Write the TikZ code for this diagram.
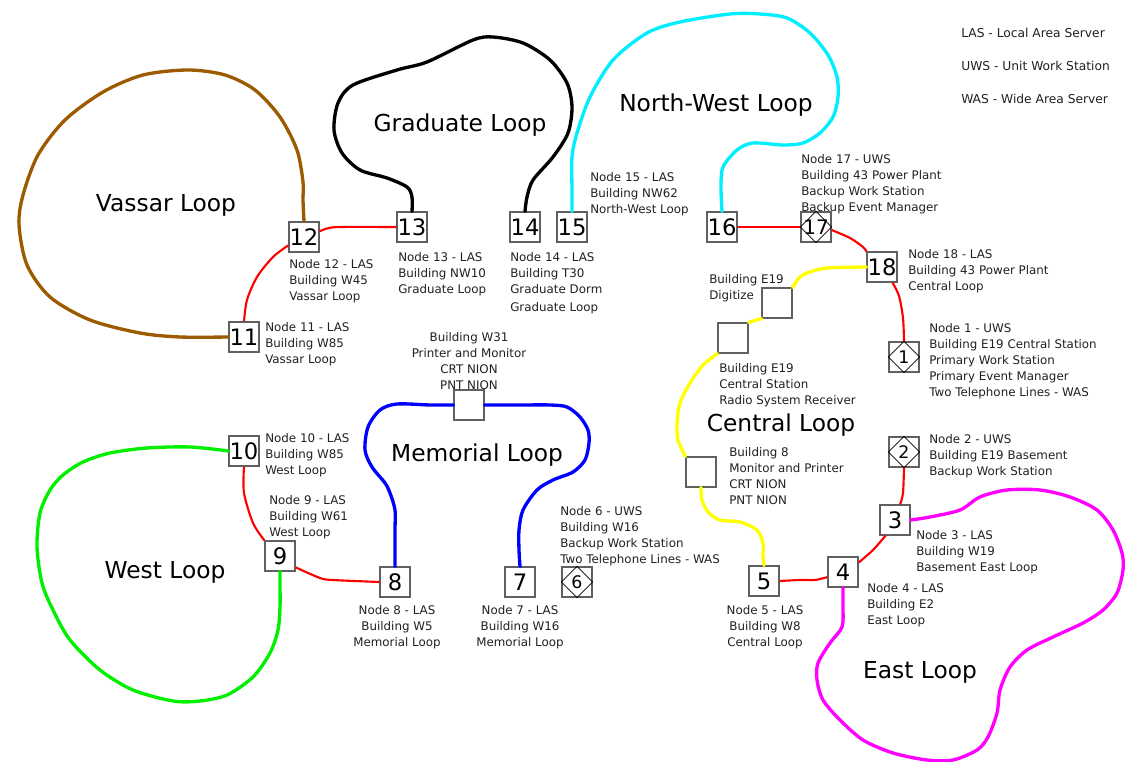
\documentclass[tikz,border=0pt]{standalone}
\usepackage{fontspec}
\setmainfont{DejaVu Sans}
\definecolor{boxgray}{HTML}{606060}
\definecolor{txt}{HTML}{202020}
\definecolor{vassar}{HTML}{9C5B00}
\definecolor{nwcyan}{HTML}{00EEFF}
\definecolor{wgreen}{HTML}{00F000}
\definecolor{memblue}{HTML}{0000FF}
\definecolor{cyellow}{HTML}{FFFF00}
\definecolor{emag}{HTML}{FF00FF}
\begin{document}
\begin{tikzpicture}[x=0.75pt,y=-0.75pt,
  box/.style={draw=boxgray,line width=0.9pt,minimum size=22.5pt,inner sep=0pt,fill=white,font=\fontsize{17}{17}\selectfont},
  dbox/.style={box,font=\fontsize{13}{13}\selectfont},
  lbl/.style={font=\fontsize{8.9}{12}\selectfont,align=left,anchor=north west,inner sep=0pt,text=txt},
  clbl/.style={lbl,align=center,anchor=north},
  legend/.style={font=\fontsize{9.2}{12}\selectfont,anchor=west,inner sep=0pt,text=txt},
  big/.style={font=\fontsize{17.5}{20}\selectfont,anchor=base,inner sep=0pt},
  ring/.style={line width=2.5pt,line join=round,line cap=round},
  redlink/.style={red,line width=1.6pt,line join=round},
  diam/.style={black,line width=0.6pt},
]
\useasboundingbox (0,0) rectangle (1128,762);

% boxes
\node[box] (b12) at (304,237) {12};
\node[box] (b11) at (244,337) {11};
\node[box] (b13) at (412,227) {13};
\node[box] (b14) at (525,227) {14};
\node[box] (b15) at (572,227) {15};
\node[box] (b16) at (722,227) {16};
\node[box,font=\fontsize{15}{15}\selectfont] (b17) at (816,227) {17};
\node[box] (b18) at (882,267) {18};
\node[box] (bdig) at (777,303) {};
\node[box] (bcs) at (733,338) {};
\node[box] (bb8) at (701,472) {};
\node[dbox] (b1) at (904,357) {1};
\node[dbox] (b2) at (904,452) {2};
\node[box] (b3) at (895,520) {3};
\node[box] (b4) at (843,572) {4};
\node[box] (b5) at (764,581) {5};
\node[box] (bw31) at (469,405) {};
\node[box] (b8) at (395,582) {8};
\node[box] (b7) at (520,582) {7};
\node[dbox] (b6) at (577,582) {6};
\node[box] (b10) at (244,451) {10};
\node[box] (b9) at (280,556) {9};

\foreach \n in {17,1,2,6}
  \draw[diam] (b\n.north) -- (b\n.east) -- (b\n.south) -- (b\n.west) -- cycle;

% loops
\draw[ring,vassar] plot[smooth] coordinates {(b12.north) (303,200) (303,182) (297,150) (280,117) (255,90) (225,75) (188,70) (143,75) (103,92) (65,120) (38,155) (23,195) (19,225) (27,265) (50,297) (90,320) (140,333) (180,337) (b11.west)};
\draw[ring,black] plot[smooth] coordinates {(b13.north) (412,197) (407,187) (387,178) (360,170) (342,153) (334,130) (338,103) (353,85) (397,70) (427,62) (473,40) (493,37) (523,43) (550,60) (567,83) (572,107) (568,133) (553,157) (533,180) (527,197) (b14.north)};
\draw[ring,nwcyan] plot[smooth] coordinates {(b15.north) (572,190) (572,157) (577,133) (590,97) (613,60) (647,33) (680,22) (730,14) (760,14) (787,18) (810,33) (828,55) (837,77) (838,97) (833,117) (820,133) (803,143) (783,145) (753,143) (737,150) (723,167) (721,187) (b16.north)};
\draw[ring,memblue] plot[smooth] coordinates {(b8.north) (395,530) (395,510) (390,493) (385,483) (372,467) (365,450) (368,427) (380,410) (397,404) (430,405) (bw31.west)};
\draw[ring,memblue] plot[smooth] coordinates {(bw31.east) (520,405) (550,405) (567,407) (580,417) (588,430) (589,443) (585,460) (573,472) (553,480) (537,490) (523,510) (519,530) (519,550) (b7.north)};
\draw[ring,cyellow] plot[smooth] coordinates {(b18.west) (827,268) (810,272) (800,277) (bdig.north east)};
\draw[ring,cyellow] (bdig.south west) -- (bcs.north east);
\draw[ring,cyellow] plot[smooth] coordinates {(bcs.south west) (703,365) (690,383) (680,403) (677,423) (678,440) (bb8.north west)};
\draw[ring,cyellow] plot[smooth] coordinates {(bb8.south) (702,500) (708,512) (720,520) (740,522) (757,530) (763,543) (763,555) (b5.north)};
\draw[ring,emag] plot[smooth] coordinates {(b3.east) (930,517) (960,510) (980,497) (1007,490) (1040,490) (1070,497) (1097,510) (1113,530) (1122,553) (1123,570) (1117,593) (1103,610) (1083,623) (1053,637) (1027,650) (1010,667) (1000,690) (997,713) (988,737) (977,750) (953,760) (927,760) (893,753) (863,740) (840,720) (823,700) (817,680) (818,663) (830,643) (842,627) (843,607) (b4.south)};
\draw[ring,wgreen] plot[smooth] coordinates {(b10.west) (190,447) (147,448) (110,453) (83,462) (63,475) (50,490) (40,513) (37,547) (42,583) (53,610) (70,640) (100,670) (133,690) (173,701) (200,701) (227,695) (253,677) (270,653) (278,630) (280,607) (280,585) (b9.south)};

% red links
\draw[redlink] plot[smooth] coordinates {(b12.20) (327,228.5) (340,227) (b13.west)};
\draw[redlink] plot[smooth] coordinates {(b12.208) (273,257) (257,277) (247,300) (b11.north)};
\draw[redlink] (b16.east) -- (b17.west);
\draw[redlink] plot[smooth] coordinates {(b17.-11) (850,238) (863,247) (b18.north west)};
\draw[redlink] plot[smooth] coordinates {(b18.-56) (899,296) (903,318) (b1.north)};
\draw[redlink] plot[smooth] coordinates {(b2.south) (903,493) (b3.72)};
\draw[redlink] plot[smooth] coordinates {(b3.-121) (873,550) (b4.31)};
\draw[redlink] plot[smooth] coordinates {(b4.198) (815,580) (800,580) (b5.east)};
\draw[redlink] plot[smooth] coordinates {(b10.south) (244,493) (253,523) (b9.north west)};
\draw[redlink] plot[smooth] coordinates {(b9.-36) (320,578) (333,580) (b8.west)};

% big labels
\node[big] (lvassar) at (166,212) {Vassar Loop};
\node[big] (lgrad) at (460,132) {Graduate Loop};
\node[big] (lnw) at (716,112) {North-West Loop};
\node[big] (lmem) at (477,462) {Memorial Loop};
\node[big] (lwest) at (165,578) {West Loop};
\node[big] (lcent) at (781,432) {Central Loop};
\node[big] (least) at (920,678) {East Loop};

% small labels
\node[lbl] (t12) at (289,259) {Node 12 - LAS\\Building W45\\Vassar Loop};
\node[lbl] (t11) at (265,322) {Node 11 - LAS\\Building W85\\Vassar Loop};
\node[lbl] (t13) at (398,252) {Node 13 - LAS\\Building NW10\\Graduate Loop};
\node[lbl] (t14) at (510,252) {Node 14 - LAS\\Building T30\\Graduate Dorm\\[2pt]Graduate Loop};
\node[lbl] (t15) at (590,172) {Node 15 - LAS\\Building NW62\\North-West Loop};
\node[lbl] (t17) at (801,154) {Node 17 - UWS\\Building 43 Power Plant\\Backup Work Station\\Backup Event Manager};
\node[lbl] (t18) at (908,249) {Node 18 - LAS\\Building 43 Power Plant\\Central Loop};
\node[lbl] (tdig) at (709,274) {Building E19\\Digitize};
\node[lbl] (tcs) at (719,363) {Building E19\\Central Station\\Radio System Receiver};
\node[lbl] (t1) at (929,323) {Node 1 - UWS\\Building E19 Central Station\\Primary Work Station\\Primary Event Manager\\Two Telephone Lines - WAS};
\node[lbl] (tb8) at (729,447) {Building 8\\Monitor and Printer\\CRT NION\\PNT NION};
\node[lbl] (t2) at (929,434) {Node 2 - UWS\\Building E19 Basement\\Backup Work Station};
\node[lbl] (t3) at (916,530) {Node 3 - LAS\\Building W19\\Basement East Loop};
\node[lbl] (t4) at (867,583) {Node 4 - LAS\\Building E2\\East Loop};
\node[clbl] (t5) at (765,605) {Node 5 - LAS\\Building W8\\Central Loop};
\node[clbl] (tw31) at (469,332) {Building W31\\Printer and Monitor\\CRT NION\\PNT NION};
\node[lbl] (t6) at (560,506) {Node 6 - UWS\\Building W16\\Backup Work Station\\Two Telephone Lines - WAS};
\node[clbl] (t8) at (397,605) {Node 8 - LAS\\Building W5\\Memorial Loop};
\node[clbl] (t7) at (520,605) {Node 7 - LAS\\Building W16\\Memorial Loop};
\node[lbl] (t10) at (265,433) {Node 10 - LAS\\Building W85\\West Loop};
\node[lbl] (t9) at (269,495) {Node 9 - LAS\\Building W61\\West Loop};

% legend
\node[legend] (lg1) at (961,33) {LAS - Local Area Server};
\node[legend] (lg2) at (961,66) {UWS - Unit Work Station};
\node[legend] (lg3) at (961,99) {WAS - Wide Area Server};
\end{tikzpicture}
\end{document}
